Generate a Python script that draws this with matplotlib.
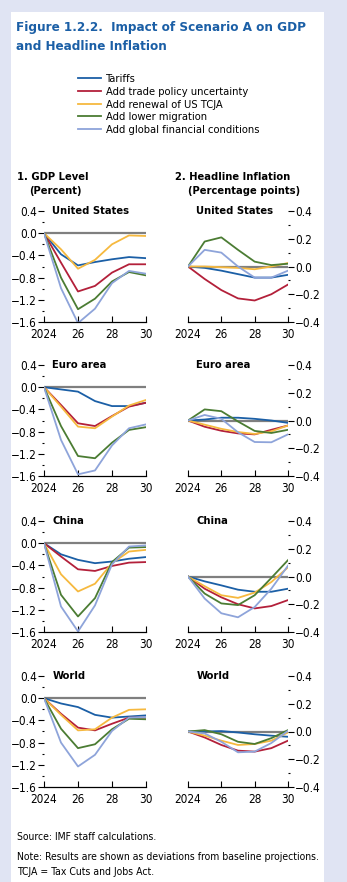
import matplotlib
matplotlib.use("Agg")
import matplotlib.pyplot as plt
from matplotlib.lines import Line2D
from matplotlib.patches import Rectangle
from matplotlib.ticker import MultipleLocator

plt.rcParams['font.family'] = ['DejaVu Sans']
plt.rcParams['font.stretch'] = 'condensed'

years = [2024, 2025, 2026, 2027, 2028, 2029, 2030]
year_ticks = [2024, 2026, 2028, 2030]
year_labels = ["2024", "26", "28", "30"]

series = ["Tariffs", "Add trade policy uncertainty", "Add renewal of US TCJA",
          "Add lower migration", "Add global financial conditions"]
colors = ["#1b5fa6", "#b3203a", "#f6b93f", "#4b7c33", "#8ea4da"]

regions = ["United States", "Euro area", "China", "World"]

# GDP level, percent (rows follow the series order)
us_gdp = [[0, -0.38, -0.58, -0.52, -0.47, -0.43, -0.45],
          [0, -0.53, -1.05, -0.95, -0.71, -0.56, -0.56],
          [0, -0.29, -0.64, -0.48, -0.20, -0.04, -0.05],
          [0, -0.80, -1.37, -1.18, -0.87, -0.70, -0.76],
          [0, -0.99, -1.62, -1.36, -0.90, -0.68, -0.73]]
ea_gdp = [[0, -0.04, -0.08, -0.25, -0.34, -0.34, -0.28],
          [0, -0.32, -0.65, -0.70, -0.52, -0.35, -0.28],
          [0, -0.35, -0.71, -0.74, -0.53, -0.33, -0.23],
          [0, -0.70, -1.24, -1.28, -1.00, -0.77, -0.72],
          [0, -0.95, -1.57, -1.50, -1.05, -0.74, -0.67]]
cn_gdp = [[0, -0.20, -0.30, -0.36, -0.33, -0.28, -0.25],
          [0, -0.24, -0.47, -0.50, -0.41, -0.35, -0.34],
          [0, -0.56, -0.87, -0.73, -0.36, -0.15, -0.12],
          [0, -0.93, -1.32, -0.99, -0.34, -0.08, -0.07],
          [0, -1.14, -1.59, -1.12, -0.38, -0.06, -0.04]]
wd_gdp = [[0, -0.095, -0.16, -0.30, -0.35, -0.33, -0.31],
          [0, -0.28, -0.53, -0.58, -0.46, -0.35, -0.35],
          [0, -0.30, -0.58, -0.56, -0.35, -0.21, -0.20],
          [0, -0.55, -0.90, -0.83, -0.56, -0.37, -0.38],
          [0, -0.80, -1.23, -1.02, -0.59, -0.35, -0.34]]

# headline inflation, percentage points
us_inf = [[0, -0.01, -0.03, -0.055, -0.08, -0.08, -0.06],
          [0, -0.09, -0.17, -0.23, -0.245, -0.20, -0.13],
          [0, 0.0, -0.005, -0.01, -0.02, 0.0, 0.025],
          [0, 0.18, 0.21, 0.12, 0.035, 0.01, 0.02],
          [0, 0.12, 0.10, 0.0, -0.08, -0.08, -0.03]]
ea_inf = [[0, 0.007, 0.02, 0.02, 0.012, 0.0, -0.017],
          [0, -0.045, -0.074, -0.093, -0.10, -0.067, -0.036],
          [0, -0.03, -0.06, -0.083, -0.097, -0.078, -0.036],
          [0, 0.08, 0.067, -0.007, -0.075, -0.09, -0.067],
          [0, 0.04, 0.012, -0.085, -0.155, -0.157, -0.10]]
cn_inf = [[0, -0.035, -0.064, -0.095, -0.11, -0.11, -0.088],
          [0, -0.088, -0.15, -0.20, -0.23, -0.213, -0.17],
          [0, -0.07, -0.135, -0.154, -0.116, -0.04, 0.066],
          [0, -0.123, -0.194, -0.206, -0.135, -0.01, 0.118],
          [0, -0.159, -0.265, -0.294, -0.22, -0.088, 0.078]]
wd_inf = [[0, 0.0, 0.003, -0.007, -0.02, -0.03, -0.038],
          [0, -0.043, -0.097, -0.138, -0.145, -0.12, -0.066],
          [0, -0.03, -0.066, -0.097, -0.09, -0.066, -0.007],
          [0, 0.01, -0.02, -0.074, -0.09, -0.048, 0.01],
          [0, -0.014, -0.074, -0.15, -0.145, -0.083, 0.005]]

gdp_data = [us_gdp, ea_gdp, cn_gdp, wd_gdp]
inf_data = [us_inf, ea_inf, cn_inf, wd_inf]

W, H = 347, 882
fig = plt.figure(figsize=(W / 100, H / 100), dpi=100)
fig.patch.set_facecolor("#e0e4f3")
fig.add_artist(Rectangle((11 / W, 0), 313 / W, 1 - 12 / H, transform=fig.transFigure,
                         facecolor="white", edgecolor="none", zorder=0))

blue = "#1b5fa6"
fig.text(16 / W, 1 - 27 / H, "Figure 1.2.2.  Impact of Scenario A on GDP",
         color=blue, fontsize=9.6, fontweight="bold", va="center", ha="left")
fig.text(16 / W, 1 - 46 / H, "and Headline Inflation",
         color=blue, fontsize=9.6, fontweight="bold", va="center", ha="left")

handles = [Line2D([], [], color=c, lw=1.3) for c in colors]
fig.legend(handles, series, loc="upper left", bbox_to_anchor=(78 / W, 1 - 74 / H),
           frameon=False, fontsize=8, handlelength=2.05, handletextpad=0.5,
           labelspacing=0.25, borderpad=0, borderaxespad=0)

hdr = dict(fontsize=8, fontweight="bold", va="center", ha="left")
fig.text(17 / W, 1 - 177 / H, "1. GDP Level", **hdr)
fig.text(29 / W, 1 - 191 / H, "(Percent)", **hdr)
fig.text(175 / W, 1 - 177 / H, "2. Headline Inflation", **hdr)
fig.text(188 / W, 1 - 191 / H, "(Percentage points)", **hdr)

tops = [211, 365, 521, 676]
ah = 111


def style_axes(ax, lo, hi, major, minor, side):
    tw = ax.twinx()
    tw.set_ylim(lo, hi)
    for s in tw.spines.values():
        s.set_visible(False)
    tw.yaxis.set_major_locator(MultipleLocator(major))
    tw.yaxis.set_minor_locator(MultipleLocator(minor))
    tw.set_zorder(ax.get_zorder() - 1)
    ax.patch.set_visible(False)

    ax.set_xlim(2024, 2030)
    ax.set_ylim(lo, hi)
    for s in ["top", "left", "right"]:
        ax.spines[s].set_visible(False)
    ax.spines["bottom"].set_linewidth(0.9)
    ax.set_xticks(year_ticks)
    ax.set_xticklabels(year_labels)
    ax.tick_params(axis="x", direction="in", length=4, width=0.8, labelsize=8.5, pad=4.5)
    ax.yaxis.set_major_locator(MultipleLocator(major))
    ax.yaxis.set_minor_locator(MultipleLocator(minor))
    if side == "right":
        ax.yaxis.tick_right()
        tw.yaxis.tick_left()
    else:
        ax.yaxis.tick_left()
        tw.yaxis.tick_right()
    ax.tick_params(axis="y", which="major", direction="out", length=4, width=0.8,
                   labelsize=8.5, pad=1)
    ax.tick_params(axis="y", which="minor", direction="out", length=1.5, width=0.8)
    tw.tick_params(axis="y", which="major", direction="in", length=4, width=0.8,
                   labelleft=False, labelright=False)
    tw.tick_params(axis="y", which="minor", direction="in", length=1.5, width=0.8)


for i, region in enumerate(regions):
    bottom = 1 - (tops[i] + ah) / H
    ax1 = fig.add_axes([44 / W, bottom, 102 / W, ah / H])
    ax2 = fig.add_axes([188 / W, bottom, 100 / W, ah / H])
    for ax, data in [(ax1, gdp_data[i]), (ax2, inf_data[i])]:
        ax.axhline(0, color="#7f7f7f", lw=1.6, zorder=1)
        for vals, c in zip(data, colors):
            ax.plot(years, vals, color=c, lw=1.3, zorder=2)
    style_axes(ax1, -1.6, 0.4, 0.4, 0.2, "left")
    style_axes(ax2, -0.4, 0.4, 0.2, 0.1, "right")
    for ax in [ax1, ax2]:
        ax.annotate(region, xy=(0, 0.4), xycoords=("axes fraction", "data"),
                    xytext=(6, 0), textcoords="offset points",
                    fontsize=8, fontweight="bold", va="center", ha="left")

note = dict(fontsize=7.5, va="center", ha="left")
fig.text(17 / W, 1 - 837 / H, "Source: IMF staff calculations.", **note)
fig.text(17 / W, 1 - 857 / H, "Note: Results are shown as deviations from baseline projections.", **note)
fig.text(17 / W, 1 - 872 / H, "TCJA = Tax Cuts and Jobs Act.", **note)

fig.savefig("out.png", dpi=100, facecolor=fig.get_facecolor())
